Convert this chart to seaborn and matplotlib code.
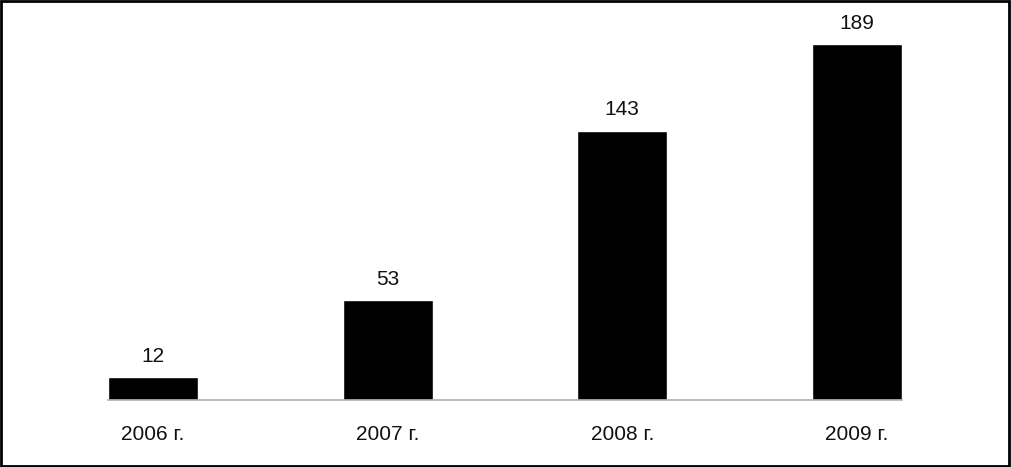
import matplotlib
matplotlib.use("Agg")
import matplotlib.pyplot as plt
import seaborn as sns
import pandas as pd
from matplotlib.patches import Rectangle

years = ["2006 г.", "2007 г.", "2008 г.", "2009 г."]
counts = [12, 53, 143, 189]

sns.set_theme(style="white")
plt.rcParams["font.family"] = ["Liberation Sans", "DejaVu Sans"]

df = pd.DataFrame({"year": years, "count": counts})

fig = plt.figure(figsize=(10.11, 4.67), dpi=100)
ax = fig.add_axes([108 / 1011, 67 / 467, 794 / 1011, 376.8 / 467])

bar_w = 0.385
sns.barplot(data=df, x="year", y="count", color="black", width=bar_w,
            saturation=1, ax=ax)

for bar, v in zip(ax.patches, counts):
    ax.annotate(str(v), (bar.get_x() + bar.get_width() / 2, bar.get_height()),
                xytext=(0, 8), textcoords="offset points",
                ha="center", va="bottom", fontsize=15, color="#111111")

ax.set_xlim(-bar_w / 2, 3 + bar_w / 2)
ax.set_ylim(0, 200)
ax.set(xlabel=None, ylabel=None, yticks=[])
for s in ["top", "left", "right"]:
    ax.spines[s].set_visible(False)
ax.spines["bottom"].set_color("#b0b0b0")
ax.spines["bottom"].set_linewidth(1.2)
ax.tick_params(axis="x", length=0, pad=18, labelsize=15, labelcolor="#111111")

fig.patches.append(Rectangle((0.001, 0.002), 0.997, 0.995, transform=fig.transFigure,
                             fill=False, edgecolor="black", linewidth=2))

fig.savefig("out.png", dpi=100, facecolor="white")
